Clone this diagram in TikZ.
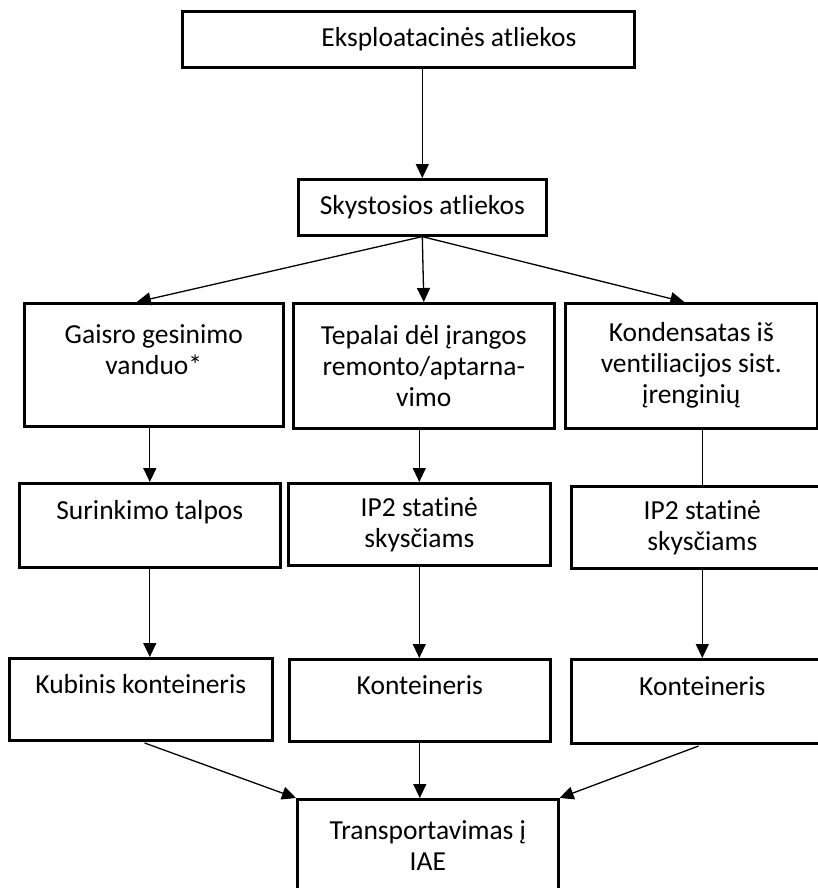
\documentclass[tikz,border=0pt]{standalone}
\usepackage{fontspec}
\setmainfont{Carlito}[Ligatures=NoCommon]
\usetikzlibrary{positioning, arrows.meta, calc}

\begin{document}
\begin{tikzpicture}[
    x=1pt, y=-1pt,
    every node/.style={font=\fontsize{27.5}{31}\selectfont},
    stage/.style={draw, line width=2.6pt, anchor=north west,
                  align=center, inner sep=0pt},
    arrow/.style={-{Triangle[length=14pt, width=13pt]}, line width=1.3pt},
    link/.style={line width=1.3pt},
]
\useasboundingbox (0,0) rectangle (818,888);

% Top
\node[stage, minimum width=452, minimum height=56, text width=336, align=flush right]
     (eksp) at (181,10) {Eksploatacinės atliekos};
\node[stage, minimum width=248, minimum height=56] (skyst) at (297,178) {Skystosios atliekos};

% Liquid waste kinds
\node[stage, minimum width=259, minimum height=123] (gaisro) at (23,302)
     {Gaisro gesinimo\\ vanduo*\\ \mbox{}};
\node[stage, minimum width=261, minimum height=125] (tepalai) at (292,302)
     {Tepalai dėl įrangos\\ remonto/aptarna-\\ vimo};
\node[stage, minimum width=252, minimum height=125] (kond) at (564,302)
     {Kondensatas iš\\ ventiliacijos sist.\\ įrenginių};

% Storage
\node[stage, minimum width=261, minimum height=84] (surink) at (18,482)
     {Surinkimo talpos\\ \mbox{}};
\node[stage, minimum width=262, minimum height=82] (ipa) at (287,482)
     {IP2 statinė\\ skysčiams};
\node[stage, minimum width=262, minimum height=82] (ipb) at (570,485)
     {IP2 statinė\\ skysčiams};

% Containers
\node[stage, minimum width=263, minimum height=82] (kubinis) at (8,657)
     {Kubinis konteineris\\ \mbox{}};
\node[stage, minimum width=261, minimum height=82] (konta) at (288,658)
     {Konteineris\\ \mbox{}};
\node[stage, minimum width=262, minimum height=84] (kontb) at (570,658)
     {Konteineris\\ \mbox{}};

% Transport
\node[stage, minimum width=261, minimum height=92] (transp) at (296,798)
     {Transportavimas į\\ IAE};

% Arrows
\draw[arrow] (skyst.north |- eksp.south) -- (skyst.north);
\draw[arrow] (skyst.south) -- ($(gaisro.north)+(-17,0)$);
\draw[arrow] (skyst.south) -- (tepalai.north);
\draw[arrow] (skyst.south) -- ($(kond.north)+(-7,0)$);
\draw[arrow] (surink.north |- gaisro.south) -- (surink.north);
\draw[arrow] (ipa.north |- tepalai.south) -- (ipa.north);
\draw[link] (ipb.north |- kond.south) -- (ipb.north);
\draw[arrow] (surink.south) -- (surink.south |- kubinis.north);
\draw[arrow] (ipa.south) -- (ipa.south |- konta.north);
\draw[arrow] (ipb.south) -- (kontb.north);
\draw[arrow, shorten <=4pt] (kubinis.south) -- (transp.north west);
\draw[arrow] (konta.south) -- (konta.south |- transp.north);
\draw[arrow, shorten <=4pt] (kontb.south) -- (transp.north east);

\end{tikzpicture}
\end{document}
